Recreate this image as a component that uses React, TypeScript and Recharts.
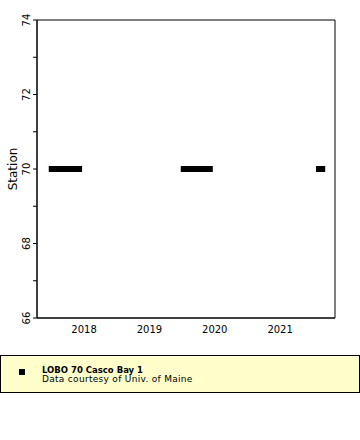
import { LineChart, Line, XAxis, YAxis, Label, ReferenceArea } from "recharts";

const seriesName = "LOBO 70 Casco Bay 1";
const seriesNote = "Data courtesy of Univ. of Maine";
const stationValue = 70;
const segStart = [2017.46, 2019.48, 2021.55];
const segEnd = [2017.97, 2019.97, 2021.69];
const xTicks = [2018, 2019, 2020, 2021];
const yTicks = [66, 67, 68, 69, 70, 71, 72, 73, 74];
const xDomain = [2017.28, 2021.84];
const yDomain = [66, 74];

const data: { t: number; station: number | null }[] = [];
segStart.forEach((s, i) => {
    data.push({ t: s, station: stationValue });
    data.push({ t: segEnd[i], station: stationValue });
    data.push({ t: segEnd[i] + 0.01, station: null });
});

const font = "DejaVu Sans, sans-serif";

function YTick(props: any) {
    const { x, y, payload } = props;
    const v = payload.value;
    return (
        <g>
            <line x1={x + 2} x2={x + 6} y1={y} y2={y} stroke="#000" />
            {v % 2 === 0 && (
                <text
                    x={x - 1}
                    y={y}
                    transform={`rotate(-90 ${x - 1} ${y})`}
                    textAnchor="middle"
                    fontSize={10}
                    fontFamily={font}
                    fill="#000"
                >
                    {v}
                </text>
            )}
        </g>
    );
}

export default function App() {
    return (
        <div style={{ position: "absolute", left: 0, top: 0, width: 360, height: 440, background: "#fff" }}>
            <LineChart
                width={360}
                height={350}
                data={data}
                margin={{ top: 20, right: 25, left: 0, bottom: 12 }}
            >
                <XAxis
                    dataKey="t"
                    type="number"
                    domain={xDomain}
                    ticks={xTicks}
                    tickLine={false}
                    axisLine={{ stroke: "#000" }}
                    tick={{ fontSize: 10, fontFamily: font, fill: "#000" }}
                    tickMargin={2}
                    height={20}
                    allowDataOverflow
                />
                <YAxis
                    type="number"
                    domain={yDomain}
                    ticks={yTicks}
                    interval={0}
                    tickLine={false}
                    tickSize={4}
                    tickMargin={2}
                    axisLine={{ stroke: "#000" }}
                    tick={<YTick />}
                    width={37}
                >
                    <Label
                        value="Station"
                        angle={-90}
                        position="insideLeft"
                        offset={13}
                        style={{ fontSize: 12, fontFamily: font, fill: "#000", textAnchor: "middle" }}
                    />
                </YAxis>
                <ReferenceArea
                    x1={xDomain[0]}
                    x2={xDomain[1]}
                    y1={yDomain[0]}
                    y2={yDomain[1]}
                    fill="none"
                    stroke="#000"
                    strokeOpacity={1}
                    ifOverflow="visible"
                />
                <Line
                    dataKey="station"
                    stroke="#000"
                    strokeWidth={6}
                    strokeLinecap="butt"
                    dot={false}
                    connectNulls={false}
                    isAnimationActive={false}
                />
            </LineChart>
            <div
                style={{
                    position: "absolute",
                    left: 0,
                    top: 355,
                    width: 358,
                    height: 36,
                    border: "1px solid #000",
                    background: "#ffffcc",
                    fontFamily: font,
                    fontSize: 9,
                    lineHeight: "9px",
                }}
            >
                <div style={{ position: "absolute", left: 18, top: 13, width: 6, height: 6, background: "#000" }} />
                <div style={{ position: "absolute", left: 41, top: 10 }}>
                    <div style={{ fontWeight: "bold", fontSize: 8.5 }}>{seriesName}</div>
                    <div style={{ letterSpacing: "0.3px" }}>{seriesNote}</div>
                </div>
            </div>
        </div>
    );
}
